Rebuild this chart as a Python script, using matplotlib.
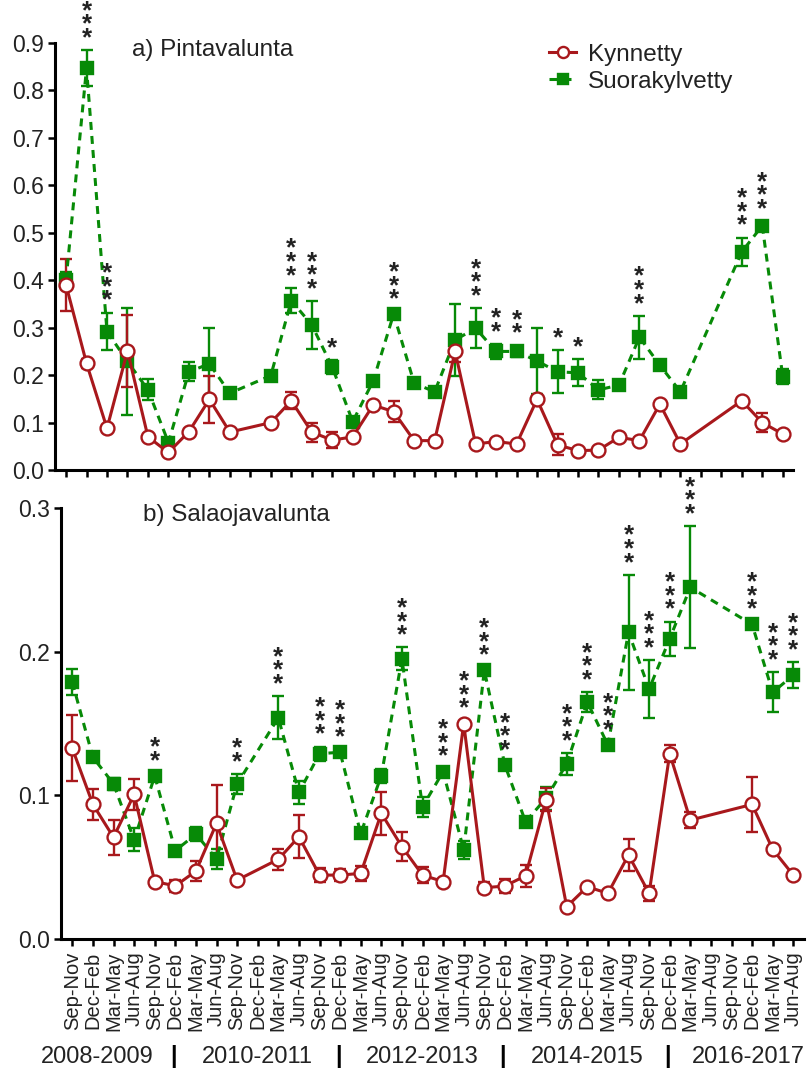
import numpy as np
import matplotlib
matplotlib.use('Agg')
from matplotlib import pyplot as plt
from matplotlib.transforms import blended_transform_factory

plt.rcParams['font.family'] = ['Liberation Sans', 'DejaVu Sans']

seasons = ['Sep-Nov', 'Dec-Feb', 'Mar-May', 'Jun-Aug'] * 9
years = ['2008-2009', '2010-2011', '2012-2013', '2014-2015', '2016-2017']
year_pos = [1.2, 9.0, 17.0, 25.0, 32.8]
sep_pos = [4.9, 12.9, 20.9, 28.9]

nan = np.nan

# a) Pintavalunta
a_kyn = [0.39, 0.225, 0.088, 0.251, 0.070, 0.037, 0.081, 0.149, 0.080, nan,
         0.100, 0.146, 0.080, 0.063, 0.070, 0.137, 0.123, 0.062, 0.062, 0.250,
         0.055, 0.060, 0.055, 0.149, 0.053, 0.041, 0.042, 0.069, 0.062, 0.139,
         0.055, nan, nan, 0.146, 0.100, 0.076]
a_kyn_err = [0.055, 0.010, 0.008, 0.075, 0.005, 0.006, 0.006, 0.050, 0.006, nan,
             0.005, 0.018, 0.020, 0.017, 0.005, 0.006, 0.022, 0.005, 0.005, 0.022,
             0.005, 0.005, 0.005, 0.005, 0.022, 0.004, 0.004, 0.010, 0.005, 0.005,
             0.004, nan, nan, 0.005, 0.020, 0.005]
a_suo = [0.400, 0.847, 0.292, 0.229, 0.169, 0.058, 0.207, 0.224, 0.162, nan,
         0.199, 0.357, 0.306, 0.217, 0.102, 0.188, 0.329, 0.183, 0.165, 0.274,
         0.299, 0.250, 0.250, 0.230, 0.207, 0.205, 0.169, 0.179, 0.280, 0.221,
         0.165, nan, nan, 0.460, 0.515, 0.197]
a_suo_err = [0.018, 0.038, 0.040, 0.113, 0.022, 0.005, 0.020, 0.076, 0.005, nan,
             0.005, 0.027, 0.050, 0.015, 0.005, 0.005, 0.005, 0.006, 0.007, 0.075,
             0.042, 0.015, 0.012, 0.070, 0.045, 0.028, 0.020, 0.010, 0.045, 0.010,
             0.008, nan, nan, 0.030, 0.010, 0.015]
a_star_idx = [1, 2, 11, 12, 13, 16, 20, 21, 22, 24, 25, 28, 33, 34]
a_star_n = [3, 3, 3, 3, 1, 3, 3, 2, 2, 1, 1, 3, 3, 3]

# b) Salaojavalunta
b_kyn = [0.1327, 0.0937, 0.0708, 0.1007, 0.040, 0.037, 0.0473, 0.0805, 0.041, nan,
         0.0555, 0.0712, 0.0445, 0.0445, 0.0457, 0.0875, 0.0643, 0.0445, 0.040, 0.150,
         0.0357, 0.0369, 0.044, 0.097, 0.0225, 0.0364, 0.0318, 0.0585, 0.0318, 0.129,
         0.0828, nan, nan, 0.0937, 0.0624, 0.0445]
b_kyn_err = [0.023, 0.011, 0.012, 0.011, 0.002, 0.004, 0.007, 0.027, 0.003, nan,
             0.0075, 0.015, 0.005, 0.004, 0.005, 0.015, 0.010, 0.0055, 0.002, 0.002,
             0.004, 0.005, 0.0075, 0.008, 0.001, 0.002, 0.002, 0.011, 0.005, 0.006,
             0.0055, nan, nan, 0.019, 0.002, 0.002]
b_suo = [0.1787, 0.1265, 0.108, 0.069, 0.1135, 0.0615, 0.073, 0.0557, 0.108, nan,
         0.154, 0.102, 0.129, 0.130, 0.0735, 0.1137, 0.195, 0.092, 0.1165, 0.062,
         0.187, 0.121, 0.0817, 0.098, 0.122, 0.165, 0.135, 0.2135, 0.174, 0.209,
         0.2448, nan, nan, 0.219, 0.1717, 0.1837]
b_suo_err = [0.009, 0.003, 0.004, 0.008, 0.002, 0.002, 0.005, 0.007, 0.007, nan,
             0.015, 0.008, 0.005, 0.002, 0.002, 0.005, 0.008, 0.007, 0.002, 0.006,
             0.002, 0.002, 0.002, 0.008, 0.0075, 0.007, 0.002, 0.040, 0.020, 0.012,
             0.0425, nan, nan, 0.002, 0.014, 0.009]
b_star_idx = [4, 8, 10, 12, 13, 16, 18, 19, 20, 21, 24, 25, 26, 27, 28, 29, 30, 33, 34, 35]
b_star_n = [2, 2] + [3] * 18

red = '#A8181C'
green = '#078A07'
txt = '#222222'
x = np.arange(len(seasons))


def draw(ax, y, e, color, marker, ls, mfc, ms, label):
    y = np.array(y)
    e = np.array(e)
    ok = ~np.isnan(y)
    cont = ax.errorbar(x[ok], y[ok], yerr=e[ok], color=color, ls=ls, lw=2.2,
                       marker=marker, mfc=mfc, mec=color, ms=ms, mew=1.7,
                       elinewidth=1.7, capsize=4.5, capthick=1.7, label=label)
    return cont[0]


def stars(ax, idx, counts, s1, e1, s2, e2):
    # significance marks stacked above the highest error bar
    for i, n in zip(idx, counts):
        top = np.nanmax([s1[i] + e1[i], s2[i] + e2[i]])
        ax.annotate('\n'.join(['*'] * n), (i, top), xytext=(0, 0),
                    textcoords='offset points', ha='center', va='bottom',
                    multialignment='center', linespacing=0.45,
                    fontsize=18.5, fontweight='bold', color=txt)


def style(ax, ymax, step):
    ax.set_xlim(-0.54, 35.5)
    ax.set_ylim(0, ymax)
    ax.set_yticks(np.arange(0, ymax + step / 2, step))
    ax.yaxis.set_major_formatter(plt.FormatStrFormatter('%.1f'))
    ax.set_xticks(x)
    for s in ['top', 'right']:
        ax.spines[s].set_visible(False)
    for s in ['left', 'bottom']:
        ax.spines[s].set_linewidth(2.2)
    ax.tick_params(axis='both', length=5, width=1.8, direction='out',
                   labelsize=16.5, labelcolor=txt, pad=3)


fig = plt.figure(figsize=(8.11, 10.70), dpi=100)
ax1 = fig.add_axes([0.0678, 0.5607, 0.9100, 0.3991])
ax2 = fig.add_axes([0.0752, 0.1224, 0.9162, 0.4028])

# a) panel
l_suo = draw(ax1, a_suo, a_suo_err, green, 's', (0, (2.6, 2.0)), green, 8.5, 'Suorakylvetty')
l_kyn = draw(ax1, a_kyn, a_kyn_err, red, 'o', '-', 'white', 10, 'Kynnetty')
stars(ax1, a_star_idx, a_star_n, a_kyn, a_kyn_err, a_suo, a_suo_err)
style(ax1, 0.9, 0.1)
ax1.set_xticklabels([])
ax1.text(0.104, 0.984, 'a) Pintavalunta', transform=ax1.transAxes, fontsize=17.5,
         color=txt, va='center', ha='left')
ax1.legend([l_kyn, l_suo], ['Kynnetty', 'Suorakylvetty'], loc='upper left',
           bbox_to_anchor=(0.64, 1.05), frameon=False, fontsize=17.5,
           handlelength=1.1, handletextpad=0.5, labelspacing=0.22,
           markerscale=0.8, labelcolor=txt)

# b) panel
draw(ax2, b_suo, b_suo_err, green, 's', (0, (2.6, 2.0)), green, 8.5, 'Suorakylvetty')
draw(ax2, b_kyn, b_kyn_err, red, 'o', '-', 'white', 10, 'Kynnetty')
stars(ax2, b_star_idx, b_star_n, b_kyn, b_kyn_err, b_suo, b_suo_err)
style(ax2, 0.3, 0.1)
ax2.set_xlim(-0.55, 35.52)
ax2.set_xticklabels(seasons, rotation=90, fontsize=14.5)
ax2.tick_params(axis='x', pad=4)
ax2.text(0.110, 0.984, 'b) Salaojavalunta', transform=ax2.transAxes, fontsize=17.5,
         color=txt, va='center', ha='left')

tr = blended_transform_factory(ax2.transData, fig.transFigure)
for p, yl in zip(year_pos, years):
    fig.text(p, 0.012, yl, transform=tr, ha='center', va='center', fontsize=17, color=txt)
for p in sep_pos:
    fig.text(p, 0.013, '|', transform=tr, ha='center', va='center', fontsize=17,
             fontweight='bold', color='black')

fig.savefig('out.png', dpi=100)
